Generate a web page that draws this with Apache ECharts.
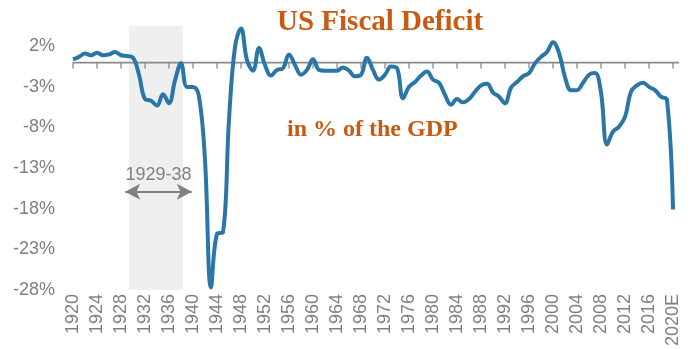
<!DOCTYPE html>
<html>
<head>
<meta charset="utf-8">
<script src="https://cdn.jsdelivr.net/npm/echarts@6/dist/echarts.min.js"></script>
<style>
html,body{margin:0;padding:0;background:#fff;}
#chart{width:700px;height:349px;}
</style>
</head>
<body>
<div id="chart"></div>
<script>
// ---- data ----
const startYear = 1920;
const deficit = [
  0.4, 0.7, 1.1, 0.9, 1.2, 0.9, 1.0, 1.3, 0.9, 0.8,          // 1920-1929
  0.6, -1.5, -4.5, -4.7, -5.3, -3.9, -5.0, -2.2, -0.1, -3.0, // 1930-1939
  -3.0, -4.2, -12.0, -27.7, -21.1, -20.9, -7.0, 1.9, 4.2, 0.3, // 1940-1949
  -1.0, 1.8, -0.3, -1.6, -0.9, -0.7, 1.0, -0.3, -1.5, -0.9,  // 1950-1959
  0.4, -0.9, -1.0, -1.0, -1.0, -0.6, -1.0, -1.7, -1.5, 0.6,  // 1960-1969
  -0.9, -2.1, -1.5, -0.5, -0.7, -4.4, -3.0, -2.4, -1.6, -1.1, // 1970-1979
  -2.1, -2.5, -4.0, -5.2, -4.5, -4.9, -4.5, -3.6, -2.8, -2.6, // 1980-1989
  -3.7, -4.2, -5.0, -3.1, -2.4, -1.7, -1.3, -0.1, 0.7, 1.3,  // 1990-1999
  2.5, 1.2, -1.8, -3.4, -3.4, -2.5, -1.5, -1.3, -3.7, -10.1, // 2000-2009
  -8.5, -7.9, -6.7, -3.6, -2.8, -2.5, -3.0, -3.4, -4.2, -4.6, // 2010-2019
  -18.1                                                       // 2020E
];
const xTicks = [1920,1924,1928,1932,1936,1940,1944,1948,1952,1956,1960,1964,1968,1972,1976,1980,1984,1988,1992,1996,2000,2004,2008,2012,2016,2020];
const xTickLabels = ['1920','1924','1928','1932','1936','1940','1944','1948','1952','1956','1960','1964','1968','1972','1976','1980','1984','1988','1992','1996','2000','2004','2008','2012','2016','2020E'];
const yTicks = [-28, -23, -18, -13, -8, -3, 2];
const xRange = [1920, 2021];
const yRange = [-28, 4.5];
const zeroLine = [[1920, 0], [2021, 0]];
const shadeRange = [1929.3, 1938.3];
const arrowRange = [1928.7, 1939.8];
const arrowLevel = -15.9;
const arrowText = '1929-38';
const titleText = 'US Fiscal Deficit';
const subtitleText = 'in % of the GDP';

// ---- chart ----
const seriesData = deficit.map((v, i) => [startYear + i, v]);
const tickData = xTicks.map((x) => [x, 0]);
const gray = '#808080';
const chart = echarts.init(document.getElementById('chart'), null, {renderer: 'canvas'});
chart.setOption({
  animation: false,
  backgroundColor: '#ffffff',
  title: [
    {text: titleText, left: 277, top: 8, padding: 0,
     textStyle: {fontFamily: 'Liberation Serif', fontWeight: 'bold', fontSize: 29, color: '#c85a14'}},
    {text: subtitleText, left: 287, top: 118, padding: 0,
     textStyle: {fontFamily: 'Liberation Serif', fontWeight: 'bold', fontSize: 24, color: '#c85a14'}}
  ],
  grid: {left: 73, right: 21, top: 26, bottom: 57},
  xAxis: {
    type: 'value', min: xRange[0], max: xRange[1],
    axisLine: {show: false, onZero: false},
    axisTick: {show: false},
    axisLabel: {show: true, customValues: xTicks, rotate: 90, margin: 4,
      fontFamily: 'Liberation Sans', fontSize: 18, color: gray,
      formatter: (v) => xTickLabels[xTicks.indexOf(v)]},
    splitLine: {show: false}
  },
  yAxis: {
    type: 'value', min: yRange[0], max: yRange[1],
    axisLine: {show: false}, axisTick: {show: false}, splitLine: {show: false},
    axisLabel: {customValues: yTicks, formatter: '{value}%', margin: 18,
      fontFamily: 'Liberation Sans', fontSize: 18, color: gray}
  },
  series: [
    {
      // zero line
      type: 'line',
      data: zeroLine,
      showSymbol: false,
      symbol: 'none',
      silent: true,
      lineStyle: {color: '#8a8a8a', width: 1.8},
      z: 3
    },
    {
      // tick marks on the zero line
      type: 'scatter',
      data: tickData,
      symbol: 'rect',
      symbolSize: [1.6, 6],
      symbolOffset: [0, 3],
      itemStyle: {color: '#8a8a8a'},
      silent: true,
      z: 3
    },
    {
      type: 'line',
      data: seriesData,
      showSymbol: false,
      smooth: 0.4,
      lineStyle: {color: '#2a76a7', width: 4},
      z: 5,
      markArea: {
        silent: true,
        itemStyle: {color: '#efefef'},
        data: [[{xAxis: shadeRange[0]}, {xAxis: shadeRange[1]}]]
      },
      markLine: {
        silent: true,
        symbol: ['arrow', 'arrow'],
        symbolSize: [12, 15],
        lineStyle: {color: gray, width: 2, type: 'solid'},
        label: {show: true, position: 'insideMiddleTop', distance: 8, formatter: arrowText,
          fontFamily: 'Liberation Sans', fontSize: 18, color: gray},
        data: [[{coord: [arrowRange[0], arrowLevel]}, {coord: [arrowRange[1], arrowLevel]}]]
      }
    }
  ]
});
</script>
</body>
</html>
